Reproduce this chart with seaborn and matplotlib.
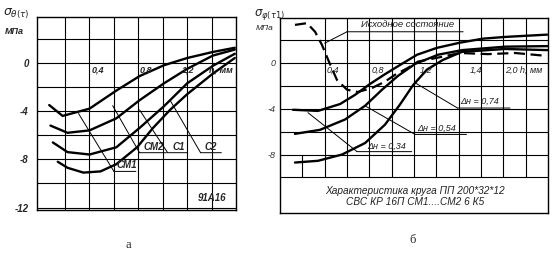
import matplotlib
matplotlib.use("Agg")
from matplotlib import pyplot as plt
import seaborn as sns
import pandas as pd

# ---- panel a: sigma_theta(tau), MPa vs h, mm (wheel grades)
h_cm1 = [0.14, 0.22, 0.35, 0.49, 0.62, 0.79, 0.92, 1.06, 1.20, 1.41, 1.59]
s_cm1 = [-8.2, -8.7, -9.1, -9.0, -8.4, -7.0, -5.4, -3.9, -2.6, -0.9, 0.4]
h_cm2 = [0.10, 0.22, 0.40, 0.62, 0.81, 1.01, 1.20, 1.41, 1.59]
s_cm2 = [-6.6, -7.4, -7.6, -7.0, -5.4, -3.6, -1.7, -0.25, 0.75]
h_c1 = [0.08, 0.22, 0.40, 0.62, 0.81, 1.01, 1.20, 1.41, 1.59]
s_c1 = [-5.2, -5.8, -5.6, -4.6, -3.1, -1.7, -0.5, 0.6, 1.1]
h_c2 = [0.07, 0.18, 0.40, 0.62, 0.81, 1.01, 1.20, 1.41, 1.59]
s_c2 = [-3.5, -4.4, -3.8, -2.3, -1.1, -0.2, 0.4, 0.9, 1.25]
a_grid_x = [0.2, 0.4, 0.6, 0.8, 1.0, 1.2, 1.4]
a_ticks = [-12, -10, -8, -6, -4, -2, 0, 2]
a_ticklabels = ['-12', '', '-8', '', '-4', '', '0', '']
a_hlabels = [(0.42, '0,4'), (0.81, '0,8'), (1.16, '1,2'), (1.38, 'h, мм')]

# ---- panel b: sigma_phi(tau1), x in grid cells
u_base = [0.67, 1.21, 1.57, 1.88, 2.19, 2.55, 3.0, 3.49, 4.12, 4.7, 5.15, 5.73, 6.18, 7.08, 8.06, 9.31, 10.52, 11.91]
s_base = [3.3, 3.45, 2.7, 1.55, 0.1, -1.5, -2.35, -2.55, -2.2, -1.65, -1.05, -0.45, 0.1, 0.45, 0.85, 0.75, 0.85, 0.6]
u_034 = [0.58, 1.7, 2.69, 3.36, 4.03, 4.7, 5.37, 6.14, 7.03, 8.06, 9.09, 10.08, 11.96]
s_034 = [-4.1, -4.2, -3.6, -2.8, -1.85, -1.0, -0.2, 0.7, 1.3, 1.75, 2.1, 2.25, 2.45]
u_054 = [0.67, 1.79, 2.91, 3.81, 4.57, 5.28, 6.05, 7.08, 8.15, 10.08, 12.0]
s_054 = [-6.2, -5.85, -4.95, -3.75, -2.35, -1.15, -0.1, 0.7, 1.1, 1.4, 1.45]
u_074 = [0.67, 1.7, 2.78, 3.81, 4.7, 5.37, 5.96, 6.58, 7.3, 8.15, 10.08, 12.0]
s_074 = [-8.7, -8.55, -8.0, -7.0, -5.4, -3.65, -1.95, -0.6, 0.25, 0.95, 1.2, 1.1]
b_ticks = [-10, -8, -6, -4, -2, 0, 2]
b_ticklabels = ['', '-8', '', '-4', '', '0', '']
b_hlabels = [(2.1, '0,4'), (4.12, '0,8'), (6.27, '1,2'), (8.5, '1,4'), (10.08, '2,0'), (10.75, 'h, мм')]

sns.set_style("white")
plt.rcParams['font.family'] = ['Liberation Sans', 'DejaVu Sans']
plt.rcParams['mathtext.fontset'] = 'dejavusans'

W, H = 554, 256
fig = plt.figure(figsize=(W / 100, H / 100), dpi=100)
ax1 = fig.add_axes([37 / W, 1 - 210 / H, 199 / W, 193 / H])
ax2 = fig.add_axes([280 / W, 1 - 213 / H, 268 / W, 195 / H])

lw = 1.7
for hx, sy in [(h_cm1, s_cm1), (h_cm2, s_cm2), (h_c1, s_c1), (h_c2, s_c2)]:
    df = pd.DataFrame({'h': hx, 's': sy})
    sns.lineplot(data=df, x='h', y='s', ax=ax1, color='black', lw=lw, sort=False, estimator=None)

ax1.set_xlim(-0.03, 1.6)
ax1.set_ylim(-12.2, 3.8)
ax1.set_xticks(a_grid_x)
ax1.set_xticklabels([])
ax1.set_yticks(a_ticks)
ax1.set_yticklabels(a_ticklabels, fontsize=7, fontweight='bold', style='italic')
ax1.tick_params(length=0, pad=6)
ax1.grid(True, color='black', lw=0.8)
ax1.set(xlabel=None, ylabel=None)
for s in ax1.spines.values():
    s.set_color('black')
    s.set_linewidth(1.0)

bi = dict(fontsize=6.5, fontweight='bold', style='italic', va='center')
for x, t in a_hlabels:
    ax1.text(x, -0.58, t, **bi)

ln = dict(arrowstyle='-', lw=0.7, color='black', shrinkA=0, shrinkB=0)
for p0, p1, p2, tx, t in [((0.31, -4.2), (0.60, -9.0), (0.78, -9.0), 0.62, 'СМ1'),
                          ((0.59, -3.55), (0.81, -7.45), (1.03, -7.45), 0.84, 'СМ2'),
                          ((0.81, -3.9), (1.04, -7.45), (1.20, -7.45), 1.08, 'С1'),
                          ((1.06, -3.1), (1.31, -7.45), (1.48, -7.45), 1.34, 'С2')]:
    ax1.annotate('', xy=p1, xytext=p0, arrowprops=ln)
    ax1.annotate('', xy=p2, xytext=p1, arrowprops=ln)
    ax1.text(tx, p1[1] + 0.5, t, fontsize=7, fontweight='bold', style='italic', va='center')
ax1.text(1.40, -11.2, '91А16', fontsize=7, fontweight='bold', style='italic', ha='center', va='center')

fig.text(3 / W, 1 - 14 / H, r'$\sigma_{\theta(\tau)}$', fontsize=9, va='center')
fig.text(5 / W, 1 - 32 / H, 'МПа', fontsize=6.5, fontweight='bold', style='italic', va='center')

# ---- panel b
df_b = pd.DataFrame({'u': u_base, 's': s_base})
sns.lineplot(data=df_b, x='u', y='s', ax=ax2, color='black', lw=1.6, sort=False, estimator=None,
             dashes=False, linestyle=(0, (5, 2.5)))
for ux, sy in [(u_034, s_034), (u_054, s_054), (u_074, s_074)]:
    df = pd.DataFrame({'u': ux, 's': sy})
    sns.lineplot(data=df, x='u', y='s', ax=ax2, color='black', lw=lw, sort=False, estimator=None)

ax2.set_xlim(0, 12)
ax2.set_ylim(-13.1, 3.9)
ax2.set_xticks([])
ax2.set_yticks(b_ticks)
ax2.set_yticklabels(b_ticklabels, fontsize=6.5, style='italic', color='#333333')
ax2.tick_params(length=0, pad=3)
ax2.set(xlabel=None, ylabel=None)
for y in b_ticks:
    ax2.axhline(y, color='black', lw=0.8, zorder=0)
ax2.vlines(range(2, 12), -10, 3.9, color='black', lw=0.8, zorder=0)
ax2.vlines([1], -10, -8, color='black', lw=0.8, zorder=0)
for s in ax2.spines.values():
    s.set_color('black')
    s.set_linewidth(1.0)

it = dict(fontsize=6.5, style='italic', va='center', color='#222222')
for x, t in b_hlabels:
    ax2.text(x, -0.62, t, **it)

ax2.annotate('', xy=(3.0, 2.7), xytext=(2.0, 1.7), arrowprops=ln)
ax2.annotate('', xy=(8.2, 2.7), xytext=(3.0, 2.7), arrowprops=ln)
ax2.text(5.7, 3.3, 'Исходное состояние', fontsize=6.8, style='italic', ha='center', va='center', color='#222222')

for p0, p1, p2, tx, ty, t in [((1.25, -4.35), (3.45, -7.75), (5.9, -7.75), 3.9, -7.25, 'Δн = 0,34'),
                              ((3.8, -3.75), (6.05, -6.25), (8.35, -6.25), 6.15, -5.7, 'Δн = 0,54'),
                              ((6.05, -1.75), (7.95, -3.95), (10.3, -3.95), 8.05, -3.4, 'Δн = 0,74')]:
    ax2.annotate('', xy=p1, xytext=p0, arrowprops=ln)
    ax2.annotate('', xy=p2, xytext=p1, arrowprops=ln)
    ax2.text(tx, ty, t, **it)

ax2.text(6.05, -11.15, 'Характеристика круга ПП 200*32*12', fontsize=7.3, style='italic',
         ha='center', va='center', color='#222222')
ax2.text(6.05, -12.15, 'СВС КР 16П СМ1....СМ2 6 К5', fontsize=7.3, style='italic',
         ha='center', va='center', color='#222222')

fig.text(254 / W, 1 - 14 / H, r'$\sigma_{\varphi(\tau 1)}$', fontsize=8.5, va='center', color='#222222')
fig.text(256 / W, 1 - 28 / H, 'МПа', fontsize=6, style='italic', va='center', color='#222222')

fig.text(128 / W, 1 - 245 / H, 'а', fontsize=9, family='Liberation Serif', ha='center', va='center')
fig.text(413 / W, 1 - 240 / H, 'б', fontsize=9, family='Liberation Serif', ha='center', va='center')

fig.savefig('out.png', dpi=100)
